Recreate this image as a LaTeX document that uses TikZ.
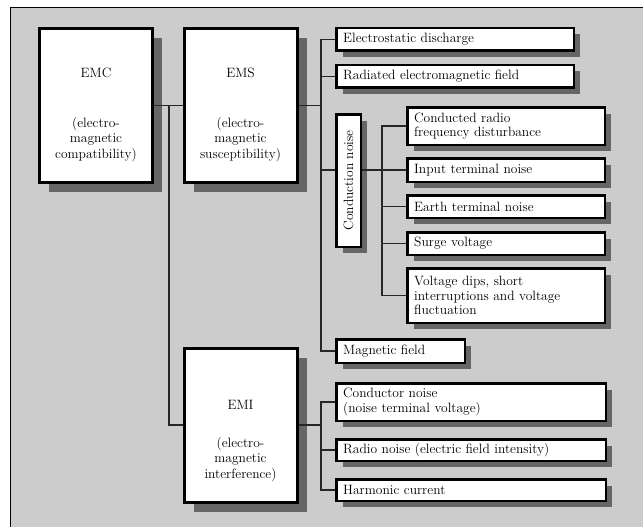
\documentclass[tikz,border=0pt]{standalone}
\usepackage{fontspec}
\usetikzlibrary{shadows}
\definecolor{bg}{HTML}{CCCCCC}
\definecolor{shd}{HTML}{666666}
\tikzset{
  txtfont/.style={font=\fontsize{13.5}{14.7}\selectfont},
  sbox/.style={draw=black, fill=white, line width=2.6pt, inner xsep=7pt, inner ysep=0pt,
    align=left, txtfont,
    general shadow={fill=shd, shadow xshift=6.3pt, shadow yshift=-6.3pt}},
  bbox/.style={draw=black, fill=white, line width=3pt, inner sep=0pt,
    minimum width=113pt, minimum height=154pt,
    general shadow={fill=shd, shadow xshift=9.5pt, shadow yshift=-9.5pt}},
  btext/.style={align=center, font=\fontsize{13.5}{15.5}\selectfont, inner sep=0pt},
  conn/.style={line width=1.1pt, draw=black!85},
}
\begin{document}
\begin{tikzpicture}[x=1pt, y=-1pt]
\useasboundingbox (0,0) rectangle (643,527);
\fill[bg] (10,7) rectangle (643,527);
\draw[line width=0.9pt] (10,527) -- (10,7) -- (643,7);

% big boxes
\node[bbox] (emc) at (96,105.5) {};
\node[btext] (emct) at (96,114.5) {EMC\\[34.5pt](electro-\\magnetic\\compatibility)};
\node[bbox] (ems) at (240.5,105.5) {};
\node[btext] (emst) at (240.5,114.5) {EMS\\[34.5pt](electro-\\magnetic\\susceptibility)};
\node[bbox] (emi) at (240.5,425) {};
\node[btext] (emit) at (240.5,441) {EMI\\[22pt](electro-\\magnetic\\interference)};

% EMS children
\node[sbox, minimum width=237.6pt, minimum height=22.6pt, text width=223.6pt] (esd) at (455,39.5) {Electrostatic discharge};
\node[sbox, minimum width=237.6pt, minimum height=22.6pt, text width=223.6pt] (rad) at (455,76.5) {Radiated electromagnetic field};
\node[sbox, rotate=90, align=center, inner xsep=0pt, minimum width=132.6pt, minimum height=24.6pt] (cn) at (348.5,180.5) {Conduction noise};
\node[sbox, minimum width=128.6pt, minimum height=23.6pt, text width=114.6pt] (mag) at (400.5,351) {Magnetic field};

% conduction noise children
\node[sbox, minimum width=197.6pt, minimum height=37.6pt, text width=183.6pt] (crf) at (506,126) {Conducted radio\\frequency disturbance};
\node[sbox, minimum width=197.6pt, minimum height=23.6pt, text width=183.6pt] (inp) at (506,170) {Input terminal noise};
\node[sbox, minimum width=197.6pt, minimum height=22.6pt, text width=183.6pt] (ear) at (506,206.5) {Earth terminal noise};
\node[sbox, minimum width=197.6pt, minimum height=22.6pt, text width=183.6pt] (srg) at (506,243.5) {Surge voltage};
\node[sbox, minimum width=197.6pt, minimum height=54.6pt, text width=183.6pt] (vdp) at (506,295.5) {Voltage dips, short\\interruptions and voltage\\fluctuation};

% EMI children
\node[sbox, minimum width=269.6pt, minimum height=37.6pt, text width=255.6pt] (cnd) at (471,402) {Conductor noise\\(noise terminal voltage)};
\node[sbox, minimum width=269.6pt, minimum height=21.6pt, text width=255.6pt] (rdn) at (471,450) {Radio noise (electric field intensity)};
\node[sbox, minimum width=269.6pt, minimum height=21.6pt, text width=255.6pt] (hrm) at (471,490) {Harmonic current};

% trunk coordinates
\coordinate (t1) at (169,105.5);
\coordinate (t2) at (321,105.5);
\coordinate (t3) at (382,170);
\coordinate (t4) at (321,425);

% connectors
\draw[conn] (emc.east) -- (ems.west);
\draw[conn] (t1) |- (emi.west);
\draw[conn] (ems.east) -- (t2);
\draw[conn] (esd.west) -| (t2) |- (mag.west);
\draw[conn] (rad.west) -- (rad.west -| t2);
\draw[conn] (inp.west -| t2) -- (inp.west -| cn.north);
\draw[conn] (inp.west -| cn.south) -- (t3);
\draw[conn] (crf.west) -| (t3) |- (vdp.west);
\draw[conn] (inp.west) -- (t3);
\draw[conn] (ear.west) -- (ear.west -| t3);
\draw[conn] (srg.west) -- (srg.west -| t3);
\draw[conn] (emi.east) -- (t4);
\draw[conn] (cnd.west) -| (t4) |- (hrm.west);
\draw[conn] (rdn.west) -- (rdn.west -| t4);
\end{tikzpicture}
\end{document}
